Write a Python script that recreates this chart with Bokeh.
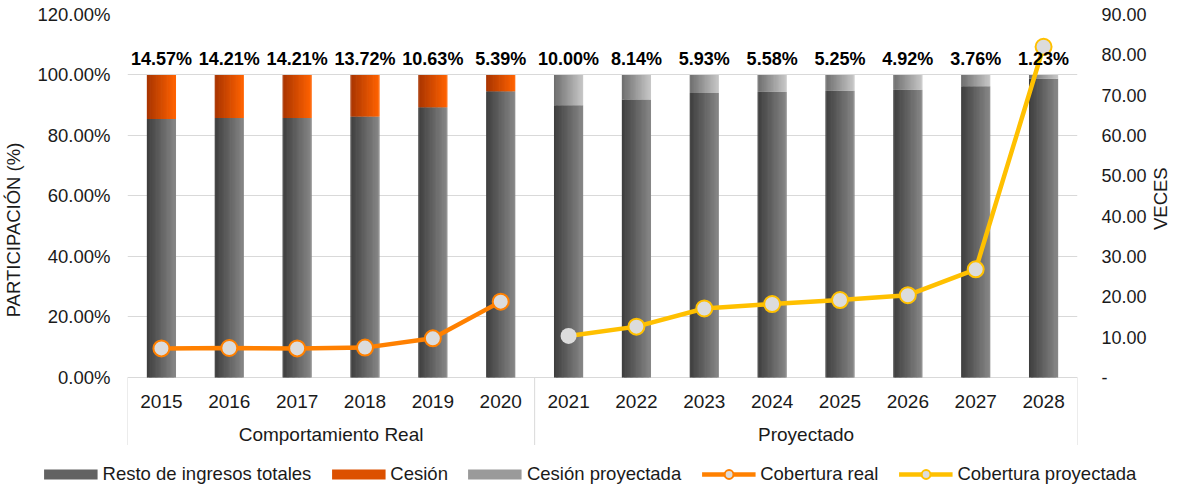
import math
import numpy as np
from bokeh.plotting import figure
from bokeh.layouts import column
from bokeh.models import (FactorRange, Range1d, LinearAxis, FixedTicker, PrintfTickFormatter,
                          CustomJSTickFormatter, ColumnDataSource, Legend, LegendItem)
from bokeh.core.properties import value
from bokeh.embed import file_html
from bokeh.resources import INLINE

# ---------------- data ----------------
years_real = ["2015", "2016", "2017", "2018", "2019", "2020"]
years_proj = ["2021", "2022", "2023", "2024", "2025", "2026", "2027", "2028"]
group_labels = ["Comportamiento Real", "Proyectado"]
cesion_real = [14.57, 14.21, 14.21, 13.72, 10.63, 5.39]
cesion_proj = [10.00, 8.14, 5.93, 5.58, 5.25, 4.92, 3.76, 1.23]
cobertura_real = [7.2, 7.3, 7.2, 7.4, 9.7, 18.8]
cobertura_proj = [10.3, 12.6, 17.1, 18.2, 19.2, 20.4, 26.8, 82.0]
left_ticks = [0, 20, 40, 60, 80, 100, 120]
right_ticks = [0, 10, 20, 30, 40, 50, 60, 70, 80, 90]
legend_labels = ["Resto de ingresos totales", "Cesión", "Cesión proyectada",
                 "Cobertura real", "Cobertura proyectada"]

years = years_real + years_proj
cesion_all = cesion_real + cesion_proj
resto_all = [round(100 - c, 2) for c in cesion_all]
resto_real = resto_all[:len(years_real)]
resto_proj = resto_all[len(years_real):]

FONT = "Liberation Sans"
FS = "18.5px"
FS_R = "18px"
FS_CAT = "19px"
TXT = "#1A1A1A"
Y_MIN = -22.5      # frame extends down to hold the category table
Y_MAX = 120
R_SCALE = right_ticks[-1] / left_ticks[-1]

C_RESTO = ("#3E3E3E", "#868686")
C_CES = ("#A83400", "#FF6200")
C_CESP = ("#6E6E6E", "#C6C6C6")
C_REAL = "#FF8000"
C_PROJ = "#FFC000"
C_MARK = "#DCDCDC"

p = figure(x_range=FactorRange(factors=years), y_range=Range1d(Y_MIN, Y_MAX),
           frame_width=950, frame_height=431, output_backend="svg", toolbar_location=None,
           x_axis_location=None,
           min_border_left=0, min_border_right=0, min_border_top=14, min_border_bottom=0)
p.frame_align = False
p.outline_line_color = None
p.xgrid.visible = False
p.extra_y_ranges = {"veces": Range1d(Y_MIN * R_SCALE, right_ticks[-1])}


def pos(factor, offset=0.0):
    """synthetic coordinate of a factor on the categorical range (+ offset)"""
    return years.index(factor) + 0.5 + offset


# left axis
yax = p.yaxis[0]
yax.ticker = FixedTicker(ticks=left_ticks)
yax.formatter = PrintfTickFormatter(format="%.2f%%")
yax.axis_label = "PARTICIPACIÓN (%)"
p.ygrid.ticker = FixedTicker(ticks=left_ticks)
p.ygrid.grid_line_color = "#D9D9D9"
p.ygrid.grid_line_width = 1

rax = LinearAxis(y_range_name="veces", ticker=FixedTicker(ticks=right_ticks),
                 formatter=CustomJSTickFormatter(code="return tick == 0 ? '-' : tick.toFixed(2);"),
                 axis_label="VECES")
if "axis_label_orientation" in rax.properties():
    rax.axis_label_orientation = math.pi / 2
p.add_layout(rax, "right")

for ax, standoff, tstand, fs in ((yax, 11, 10, FS), (rax, 18, 11, FS_R)):
    ax.axis_line_color = None
    ax.major_tick_line_color = None
    ax.minor_tick_line_color = None
    ax.major_label_text_font = FONT
    ax.major_label_text_font_size = fs
    ax.major_label_text_color = TXT
    ax.major_label_standoff = standoff
    ax.axis_label_text_font = FONT
    ax.axis_label_text_font_size = FS
    ax.axis_label_text_font_style = "normal"
    ax.axis_label_text_color = TXT
    ax.axis_label_standoff = tstand

# ---------------- bars (horizontal gradient simulated by strips) ----------------
BW = 0.43
N = 24


def hex2rgb(h):
    h = h.lstrip("#")
    return tuple(int(h[i:i + 2], 16) for i in (0, 2, 4))


def mix(c0, c1, t):
    a, b = hex2rgb(c0), hex2rgb(c1)
    return "#%02x%02x%02x" % tuple(int(round(a[i] + (b[i] - a[i]) * t)) for i in range(3))


def bar_series(xs, bottoms, tops, cols):
    c0, c1 = cols
    for k in range(N):
        off = -BW / 2 + (k + 0.5) * BW / N
        w = BW / N * (1.0 if k in (0, N - 1) else 1.6)
        src = ColumnDataSource(dict(x=[pos(f, off) for f in xs], bottom=bottoms, top=tops))
        p.vbar(x="x", bottom="bottom", top="top", width=w, source=src,
               fill_color=mix(c0, c1, k / (N - 1)), line_color=None)


bar_series(years, [0] * len(years), resto_all, C_RESTO)
bar_series(years_real, resto_real, [100] * len(years_real), C_CES)
bar_series(years_proj, resto_proj, [100] * len(years_proj), C_CESP)

# ---------------- lines ----------------
p.line(x=years_real, y=cobertura_real, y_range_name="veces", line_color=C_REAL, line_width=4.5)
p.scatter(x=years_real, y=cobertura_real, y_range_name="veces", size=16,
          fill_color=C_MARK, line_color=C_REAL, line_width=2)
p.line(x=years_proj, y=cobertura_proj, y_range_name="veces", line_color=C_PROJ, line_width=4.5)
proj_alpha = [0.0] + [1.0] * (len(years_proj) - 1)
p.scatter(x=years_proj, y=cobertura_proj, y_range_name="veces", size=16,
          fill_color=C_MARK, line_color=C_PROJ, line_alpha=proj_alpha, line_width=2)

# ---------------- category axis drawn as a table ----------------
sep_x = [pos(years_real[0], -0.5), pos(years_proj[0], -0.5), pos(years_proj[-1], 0.5)]
p.segment(x0=sep_x, y0=[0] * 3, x1=sep_x, y1=[Y_MIN] * 3, line_color="#D9D9D9", line_width=1)
p.text(x=years, y=[-7.8] * len(years), text=years, text_align="center",
       text_baseline="middle", text_font=value(FONT), text_font_size=FS_CAT, text_color=TXT)
groups = [years_real, years_proj]
gx = [(pos(g[0]) + pos(g[-1])) / 2 for g in groups]
p.text(x=gx, y=[-19.0] * 2, text=group_labels, text_align="center",
       text_baseline="middle", text_font=value(FONT), text_font_size=FS_CAT, text_color=TXT)

# ---------------- data labels ----------------
p.text(x=years, y=[105.3] * len(years), text=["%.2f%%" % c for c in cesion_all],
       text_align="center", text_baseline="middle", text_font=value(FONT),
       text_font_size="18px", text_font_style="bold", text_color="black")

# ---------------- legend (own strip below the chart) ----------------
lg = figure(width=1180, height=40, output_backend="svg", toolbar_location=None,
            x_range=Range1d(0, 1), y_range=Range1d(0, 1),
            x_axis_location=None, y_axis_location=None,
            min_border_left=0, min_border_right=0, min_border_top=0, min_border_bottom=0)
lg.frame_align = False
lg.outline_line_color = None
lg.grid.visible = False
NAN = np.array([np.nan])
sw_resto = lg.line(x=NAN, y=NAN, line_width=10, line_color=mix(*C_RESTO, 0.5))
sw_ces = lg.line(x=NAN, y=NAN, line_width=10, line_color=mix(*C_CES, 0.6))
sw_cesp = lg.line(x=NAN, y=NAN, line_width=10, line_color=mix(*C_CESP, 0.5))
sw_real_l = lg.line(x=NAN, y=NAN, line_width=4.5, line_color=C_REAL)
sw_real_m = lg.scatter(x=NAN, y=NAN, fill_color=C_MARK, line_color=C_REAL, line_width=2)
sw_proj_l = lg.line(x=NAN, y=NAN, line_width=4.5, line_color=C_PROJ)
sw_proj_m = lg.scatter(x=NAN, y=NAN, fill_color=C_MARK, line_color=C_PROJ, line_width=2)
legend = Legend(items=[
    LegendItem(label=legend_labels[0], renderers=[sw_resto]),
    LegendItem(label=legend_labels[1], renderers=[sw_ces]),
    LegendItem(label=legend_labels[2], renderers=[sw_cesp]),
    LegendItem(label=legend_labels[3], renderers=[sw_real_l, sw_real_m]),
    LegendItem(label=legend_labels[4], renderers=[sw_proj_l, sw_proj_m]),
], orientation="horizontal", location="bottom_center", glyph_width=54, glyph_height=22,
    label_text_font=FONT, label_text_font_size="18.5px", label_text_color=TXT,
    spacing=20, label_standoff=5, border_line_color=None, padding=0, margin=0,
    background_fill_alpha=0)
lg.add_layout(legend)

layout = column(p, lg, spacing=0)
open("out.html", "w").write(file_html(layout, INLINE))
